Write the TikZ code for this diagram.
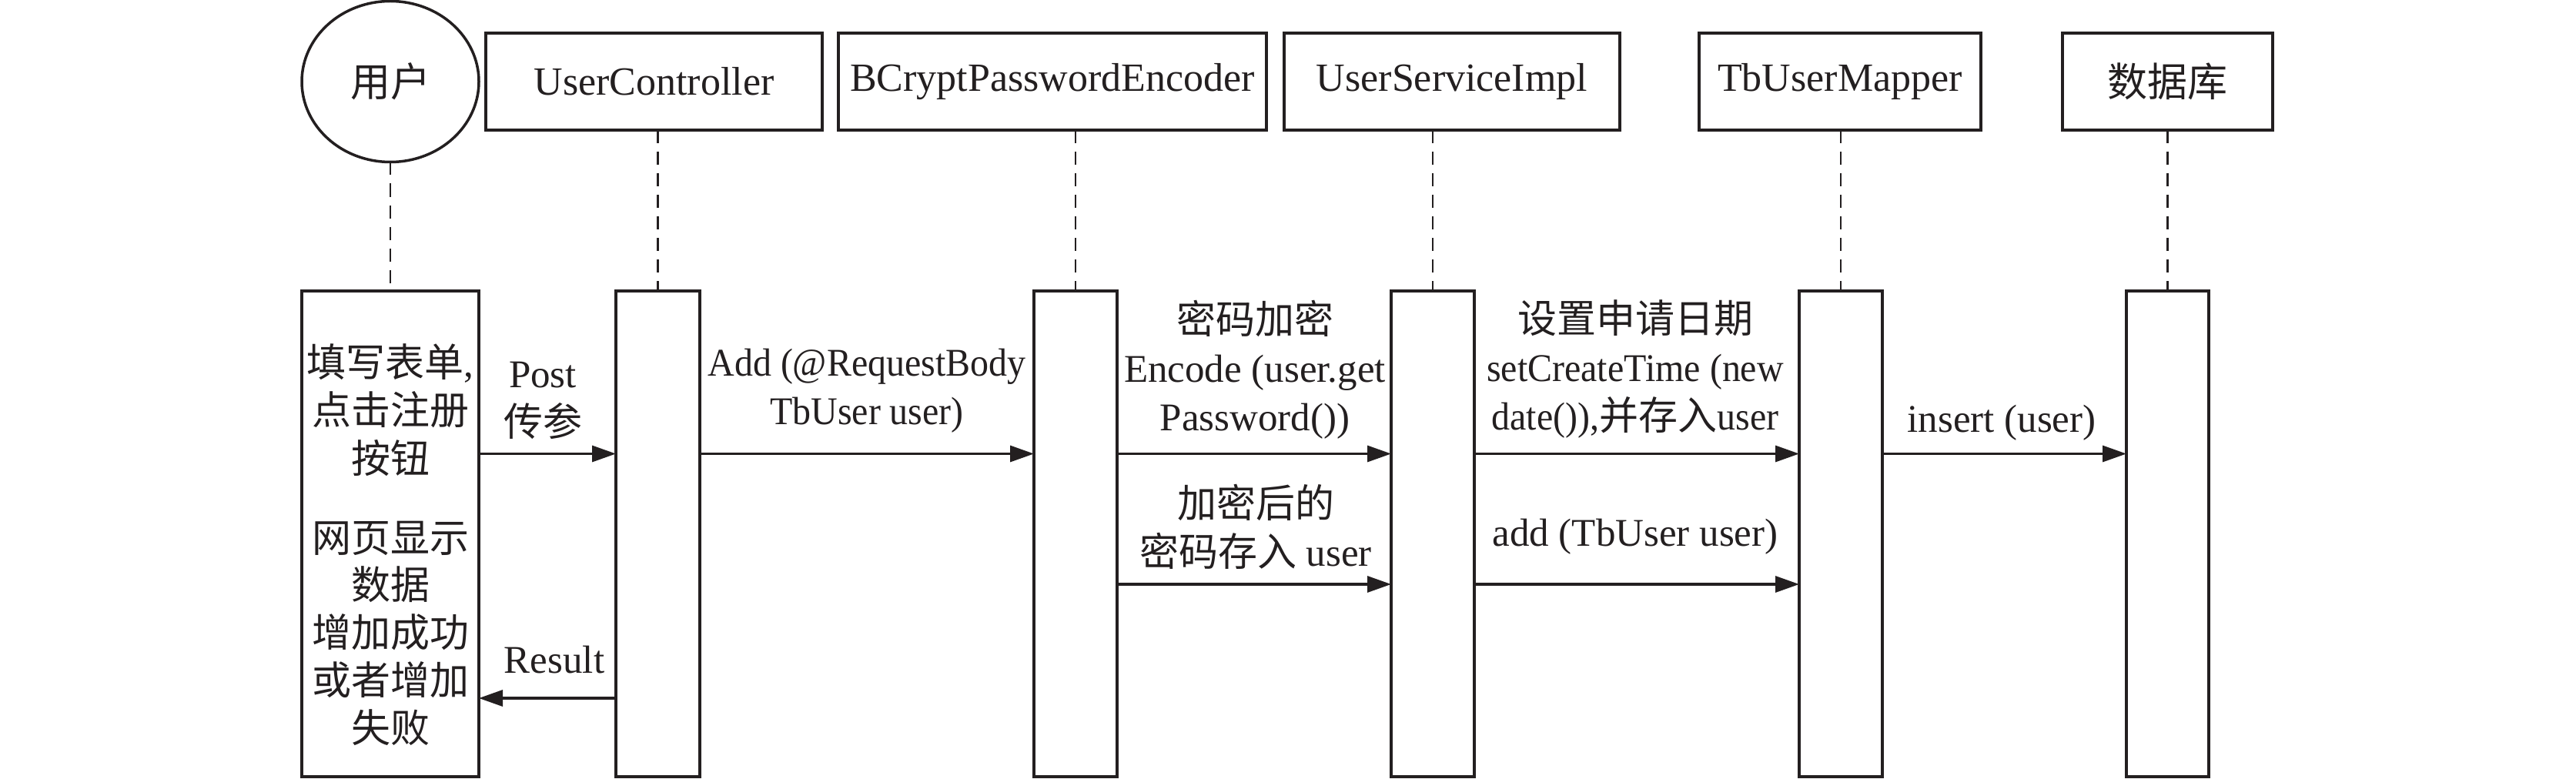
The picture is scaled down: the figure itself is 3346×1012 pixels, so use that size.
\documentclass[tikz,border=0pt]{standalone}
\usepackage{fontspec}
\setmainfont{Liberation Serif}
\newfontfamily\cjkfont{Noto Sans CJK SC}
\newfontfamily\narrowfont{Liberation Serif}[FakeStretch=0.94]
\newcommand\zh[1]{{\cjkfont #1}}
\usetikzlibrary{arrows.meta,shapes.geometric}
\definecolor{ink}{HTML}{231F20}
\begin{document}
\begin{tikzpicture}[x=0.2pt,y=-0.2pt,
  every node/.style={text=ink},
  hdr/.style={draw=ink, line width=0.7pt, inner sep=0pt, outer sep=0pt, minimum height=25.2pt, font=\fontsize{10.4}{12.5}\selectfont},
  act/.style={draw=ink, line width=0.7pt, inner sep=0pt, outer sep=0pt, minimum height=126.2pt},
  life/.style={draw=ink, line width=0.45pt, dash pattern=on 3.4pt off 2.2pt},
  msg/.style={draw=ink, line width=0.65pt, -{Triangle[length=6.2pt,width=4.2pt]}},
  lbl/.style={align=center, inner sep=0pt, font=\fontsize{10.2}{12.6}\selectfont}]
\useasboundingbox (0,0) rectangle (3346,1012);

% headers
\node[ellipse, draw=ink, line width=0.7pt, inner sep=0pt, outer sep=0pt, minimum width=46pt, minimum height=41.8pt, font=\fontsize{10.4}{12.5}\selectfont] (user) at (507,106) {\zh{用户}};
\node[hdr, minimum width=87.4pt] (cu) at (849.5,106) {UserController};
\node[hdr, minimum width=111.2pt] (bc) at (1367,106) {BCryptPasswordEncoder};
\node[hdr, minimum width=87.2pt] (us) at (1886,106) {UserServiceImpl};
\node[hdr, minimum width=73.2pt] (tm) at (2390,106) {TbUserMapper};
\node[hdr, minimum width=54.6pt] (db) at (2815.5,106) {\zh{数据库}};

% activation boxes
\node[act, minimum width=46pt] (ua) at (507,693.5) {};
\node[act, minimum width=21.8pt] (ca) at (854.5,693.5) {};
\node[act, minimum width=21.6pt] (ba) at (1397,693.5) {};
\node[act, minimum width=21.6pt] (sa) at (1861,693.5) {};
\node[act, minimum width=21.6pt] (ta) at (2391,693.5) {};
\node[act, minimum width=21.4pt] (da) at (2815.5,693.5) {};

% lifelines
\draw[life] (user.south) -- (ua.north);
\draw[life] (ca.north |- cu.south) -- (ca.north);
\draw[life] (ba.north |- bc.south) -- (ba.north);
\draw[life] (sa.north |- us.south) -- (sa.north);
\draw[life] (ta.north |- tm.south) -- (ta.north);
\draw[life] (da.north |- db.south) -- (da.north);

% text inside user activation
\node[lbl, font=\fontsize{10.2}{12.5}\selectfont] (ut1) at (507,532.5) {\zh{填写表单}{,}\\\zh{点击注册}\\\zh{按钮}};
\node[lbl, font=\fontsize{10.2}{12.35}\selectfont] (ut2) at (507,822.5) {\zh{网页显示}\\\zh{数据}\\\zh{增加成功}\\\zh{或者增加}\\\zh{失败}};

% message rows
\coordinate (r1) at (0,589.5);
\coordinate (r2) at (0,759);
\coordinate (r3) at (0,907);

\draw[msg] (ua.east |- r1) -- (ca.west |- r1);
\draw[msg] (ca.east |- r1) -- (ba.west |- r1);
\draw[msg] (ba.east |- r1) -- (sa.west |- r1);
\draw[msg] (sa.east |- r1) -- (ta.west |- r1);
\draw[msg] (ta.east |- r1) -- (da.west |- r1);
\draw[msg] (ba.east |- r2) -- (sa.west |- r2);
\draw[msg] (sa.east |- r2) -- (ta.west |- r2);
\draw[msg] (ca.west |- r3) -- (ua.east |- r3);

% labels
\node[lbl] (l1) at (705,520) {Post\\\zh{传参}};
\node[lbl] (l2) at (1126,507.5) {{\narrowfont Add (@RequestBody}\\{\narrowfont TbUser user)}};
\node[lbl] (l3) at (720,857) {Result};
\node[lbl] (l4) at (1630,480) {\zh{密码加密}\\Encode (user.get\\Password())};
\node[lbl] (l5) at (1631,684) {\zh{加密后的}\\\zh{密码存入} user};
\node[lbl] (l6) at (2124,480) {\zh{设置申请日期}\\{\narrowfont setCreateTime (new}\\{\narrowfont date()),}\zh{并存入}{\narrowfont user}};
\node[lbl] (l7) at (2124,697) {add (TbUser user)};
\node[lbl] (l8) at (2600,549) {insert (user)};
\end{tikzpicture}
\end{document}
